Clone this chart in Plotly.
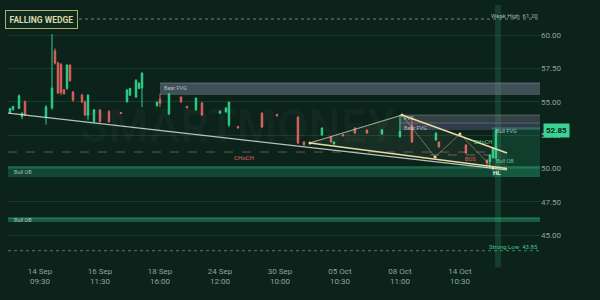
import plotly.graph_objects as go

# ---------------- data ----------------
idx   = [0, 1, 3, 4, 5, 12, 14, 15, 16, 17, 18, 19, 20, 21, 24, 25, 26, 28, 30, 33, 37, 39, 40, 42, 43, 44,
         49, 50, 53, 57, 59, 62, 64, 70, 72, 73, 76, 84, 89, 96, 98, 104, 107, 108, 111, 115, 119, 124,
         130, 134, 142, 143, 152, 159, 160, 161, 162]
opens = [54.20, 54.40, 54.50, 53.90, 55.00, 53.86, 54.54, 58.80, 57.90, 57.80, 55.90, 56.00, 57.75, 55.73, 55.50, 54.98, 54.00, 53.50, 54.39, 54.30, 54.20, 55.00, 55.50, 55.36, 56.00, 56.03,
         54.70, 55.20, 54.10, 55.36, 54.65, 54.39, 54.91, 54.15, 54.24, 53.26, 53.15, 54.16, 54.05, 53.86, 51.99, 52.51, 52.37, 51.84, 52.55, 53.04, 52.89, 52.60,
         52.40, 53.26, 52.14, 51.99, 51.77, 50.64, 50.49, 50.80, 50.80]
highs = [54.55, 54.70, 55.55, 54.20, 55.10, 54.76, 60.07, 59.00, 58.00, 57.90, 55.95, 57.80, 57.80, 55.80, 55.60, 55.10, 55.55, 54.45, 54.45, 54.35, 54.25, 55.95, 56.05, 56.70, 56.45, 57.20,
         55.00, 55.60, 55.65, 55.40, 54.70, 55.30, 55.00, 54.35, 54.58, 55.00, 53.20, 54.20, 54.10, 53.90, 52.05, 53.08, 52.40, 52.02, 52.58, 53.08, 52.92, 52.95,
         54.00, 53.90, 52.70, 52.02, 51.80, 50.68, 51.05, 51.58, 53.00]
lows  = [54.15, 54.35, 54.45, 53.70, 53.95, 53.30, 54.40, 57.80, 55.60, 55.50, 55.55, 55.90, 56.50, 55.00, 54.90, 53.95, 53.65, 53.45, 53.45, 53.45, 54.10, 54.95, 55.45, 55.30, 55.95, 54.60,
         54.65, 54.60, 54.00, 54.95, 54.50, 54.35, 53.95, 54.10, 54.20, 53.10, 53.00, 53.05, 53.90, 51.85, 51.75, 52.48, 51.95, 51.80, 52.42, 52.62, 52.62, 52.55,
         52.30, 51.95, 52.10, 51.58, 51.12, 50.10, 50.00, 50.75, 50.70]
closes= [54.50, 54.65, 55.45, 54.15, 54.00, 54.61, 56.03, 57.90, 55.66, 55.70, 55.60, 57.75, 56.60, 55.13, 54.98, 54.01, 55.50, 54.40, 53.50, 53.50, 54.12, 55.88, 56.00, 56.60, 56.40, 57.16,
         54.98, 54.90, 55.60, 54.98, 54.55, 55.28, 54.01, 54.30, 54.54, 54.98, 53.05, 53.11, 53.95, 51.92, 51.77, 53.04, 51.99, 51.99, 52.45, 52.66, 52.66, 52.90,
         52.80, 51.99, 52.66, 51.62, 51.17, 50.42, 51.02, 51.54, 52.85]

tick_idx    = [10, 30, 50, 70, 90, 110, 130, 150]
tick_labels = ["14 Sep<br>09:30", "16 Sep<br>11:30", "18 Sep<br>16:00", "24 Sep<br>12:00",
               "30 Sep<br>10:00", "05 Oct<br>10:30", "08 Oct<br>11:00", "14 Oct<br>10:30"]
y_ticks = [45.0, 47.5, 50.0, 52.5, 55.0, 57.5, 60.0]

last_price  = 52.85
weak_high   = 61.20
strong_low  = 43.85
choch_level = 51.24
bos_level   = 51.02

# trendline (start/end index, price)
trend_x = [-0.67, 165.7]
trend_y = [54.16, 49.90]
# wedge
wedge_up_x = [130.7, 165.7]; wedge_up_y = [54.01, 51.17]
wedge_lo_x = [100.0, 165.7]; wedge_lo_y = [51.92, 50.00]
wedge_left_x = [100.0, 130.7]; wedge_left_y = [51.92, 54.01]
zig_x = [100.0, 130.7, 141.7, 150.0, 161.0]
zig_y = [51.92, 54.01, 50.87, 52.59, 50.04]

# zones: (x0 index, y0, y1, label, label price, colour, line colour)
zones = [
    (50.0, 55.51, 56.41, "Bear FVG", 56.05, "rgba(130,135,160,0.45)", "rgba(150,155,180,0.5)"),
    (130.0, 53.41, 54.01, "FVG", 53.80, "rgba(120,125,140,0.35)", "rgba(150,155,170,0.45)"),
    (130.0, 52.89, 53.41, "Bear FVG", 53.05, "rgba(120,110,170,0.35)", "rgba(150,140,190,0.45)"),
    (160.7, 49.37, 53.04, "Bull FVG", 52.80, "rgba(46,200,140,0.16)", "rgba(46,200,140,0.5)"),
    (-0.67, 49.37, 50.12, "Bull OB", 49.75, "rgba(46,200,140,0.22)", "rgba(46,200,140,0.6)"),
    (-0.67, 46.00, 46.30, "Bull OB", 46.15, "rgba(46,200,140,0.35)", "rgba(46,200,140,0.6)"),
]

X0, X1 = -0.67, 176.7
Y0, Y1 = 42.78, 62.25

BG = "#0b231a"
GREEN = "#2fd08a"
RED = "#e0605f"
TXT = "#8fa39a"

fig = go.Figure()

# zones
for x0, y0, y1, lab, ly, col, lcol in zones:
    fig.add_shape(type="rect", xref="x", yref="y", x0=x0, x1=X1, y0=y0, y1=y1,
                  fillcolor=col, line=dict(width=0), layer="below")
    fig.add_shape(type="line", xref="x", yref="y", x0=x0, x1=X1, y0=y1, y1=y1,
                  line=dict(color=lcol, width=1), layer="below")

# wedge fill
fig.add_trace(go.Scatter(x=[100.0, 130.7, 165.7, 165.7, 100.0], y=[51.92, 54.01, 51.17, 50.00, 51.92],
                         fill="toself", fillcolor="rgba(255,255,230,0.05)", line=dict(width=0),
                         mode="lines", hoverinfo="skip", showlegend=False))

# horizontal level lines
fig.add_shape(type="line", xref="x", yref="y", x0=23, x1=X1, y0=weak_high, y1=weak_high,
              line=dict(color="rgba(200,210,200,0.55)", width=1, dash="dot"))
fig.add_shape(type="line", xref="x", yref="y", x0=X0, x1=X1, y0=strong_low, y1=strong_low,
              line=dict(color="rgba(200,210,200,0.45)", width=1, dash="dot"))
fig.add_shape(type="line", xref="x", yref="y", x0=X0, x1=160, y0=choch_level, y1=choch_level,
              line=dict(color="rgba(220,150,150,0.45)", width=1, dash="dash"))
fig.add_shape(type="line", xref="x", yref="y", x0=140, x1=160, y0=bos_level, y1=bos_level,
              line=dict(color="rgba(220,150,150,0.5)", width=1, dash="dash"))

# vertical highlight
fig.add_shape(type="rect", xref="x", yref="paper", x0=161.7, x1=163.7, y0=-0.01, y1=1.0,
              fillcolor="rgba(70,210,150,0.16)", line=dict(width=0), layer="below")

# trendline
fig.add_trace(go.Scatter(x=trend_x, y=trend_y, mode="lines",
                         line=dict(color="rgba(225,235,230,0.8)", width=1.3),
                         hoverinfo="skip", showlegend=False))
# wedge lines
fig.add_trace(go.Scatter(x=wedge_left_x, y=wedge_left_y, mode="lines",
                         line=dict(color="rgba(190,200,170,0.6)", width=1), hoverinfo="skip", showlegend=False))
fig.add_trace(go.Scatter(x=wedge_up_x, y=wedge_up_y, mode="lines",
                         line=dict(color="#e8dca0", width=1.5), hoverinfo="skip", showlegend=False))
fig.add_trace(go.Scatter(x=wedge_lo_x, y=wedge_lo_y, mode="lines",
                         line=dict(color="#e8dca0", width=1.5), hoverinfo="skip", showlegend=False))
fig.add_trace(go.Scatter(x=zig_x, y=zig_y, mode="lines+markers",
                         line=dict(color="rgba(200,210,170,0.55)", width=0.8),
                         marker=dict(size=3, color="#e8dca0"), hoverinfo="skip", showlegend=False))

# candles
fig.add_trace(go.Candlestick(x=idx, open=opens, high=highs, low=lows, close=closes,
                             increasing=dict(line=dict(color=GREEN, width=1), fillcolor=GREEN),
                             decreasing=dict(line=dict(color=RED, width=1), fillcolor=RED),
                             whiskerwidth=0, showlegend=False, hoverinfo="skip"))

ann = []
# watermark
ann.append(dict(x=76, y=53.2, xref="x", yref="y", text="<b>SMARTMONEY</b>", showarrow=False,
                font=dict(size=46, color="rgba(255,255,255,0.028)", family="Roboto")))
# title label
ann.append(dict(x=10.5, y=weak_high, xref="x", yref="y", text="<b>FALLING WEDGE</b>", showarrow=False,
                font=dict(size=8.5, color="#dcd8a8", family="Roboto"), bgcolor="#0d2a1e",
                bordercolor="#b7ad6a", borderwidth=1, borderpad=3.5))
# zone labels
for x0, y0, y1, lab, ly, col, lcol in zones:
    ann.append(dict(x=max(x0, 0) + 0.6, y=ly, xref="x", yref="y", text=lab, showarrow=False,
                    xanchor="left", yanchor="middle",
                    font=dict(size=5.5, color="rgba(220,225,225,0.75)", family="Roboto")))
ann.append(dict(x=161.5, y=50.6, xref="x", yref="y", text="Bull OB", showarrow=False, xanchor="left",
                font=dict(size=5.5, color="rgba(120,230,170,0.8)", family="Roboto")))
ann.append(dict(x=74, y=50.85, xref="x", yref="y", text="CHoCH", showarrow=False, xanchor="left",
                font=dict(size=6, color="#e0605f", family="Roboto")))
ann.append(dict(x=151, y=50.75, xref="x", yref="y", text="BOS", showarrow=False, xanchor="left",
                font=dict(size=5.5, color="#e0605f", family="Roboto")))
ann.append(dict(x=154, y=52.0, xref="x", yref="y", text="CHoCH", showarrow=False, xanchor="left",
                font=dict(size=5.5, color="rgba(120,230,170,0.9)", family="Roboto")))
ann.append(dict(x=162.5, y=49.7, xref="x", yref="y", text="<b>HL</b>", showarrow=False,
                font=dict(size=6, color="#e8eee8", family="Roboto")))
ann.append(dict(x=X1, y=weak_high + 0.3, xref="x", yref="y", text="Weak High  61.20", showarrow=False,
                xanchor="right", font=dict(size=6, color="#a9b5ad", family="Roboto")))
ann.append(dict(x=X1, y=strong_low + 0.3, xref="x", yref="y", text="Strong Low  43.85", showarrow=False,
                xanchor="right", font=dict(size=6, color="#3cc98f", family="Roboto")))
# last price tag
ann.append(dict(x=1.0, y=last_price, xref="paper", yref="y", text="<b>52.85</b>", showarrow=False,
                xanchor="left", xshift=3, font=dict(size=8, color="#06251a", family="Roboto"),
                bgcolor="#3ad394", borderpad=2))

fig.update_layout(
    width=600, height=300,
    margin=dict(l=8, r=60, t=5, b=35),
    paper_bgcolor=BG, plot_bgcolor=BG,
    annotations=ann,
    showlegend=False,
    xaxis=dict(range=[X0, X1], tickmode="array", tickvals=tick_idx, ticktext=tick_labels,
               showgrid=False, zeroline=False, showline=False, ticks="",
               tickfont=dict(size=8, color=TXT, family="Roboto"), rangeslider=dict(visible=False)),
    yaxis=dict(range=[Y0, Y1], side="right", tickmode="array", tickvals=y_ticks,
               ticktext=[f"{v:.2f}" for v in y_ticks], showgrid=True,
               gridcolor="rgba(80,170,130,0.18)", gridwidth=1, zeroline=False, showline=False, ticks="",
               tickfont=dict(size=8, color=TXT, family="Roboto")),
)

fig.write_html("out.html")
